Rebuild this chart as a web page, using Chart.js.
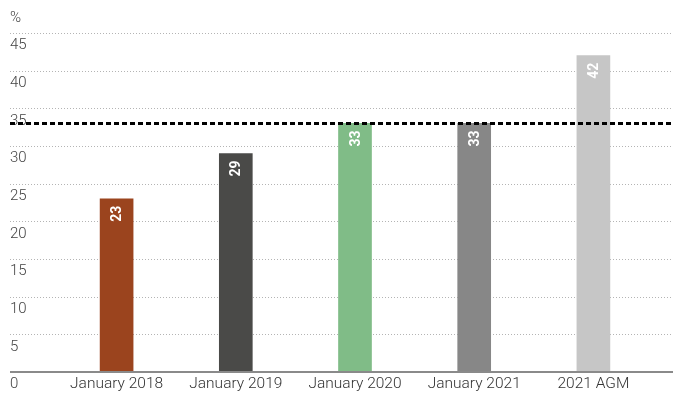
<!DOCTYPE html>
<html>
<head>
<meta charset="utf-8">
<script src="https://cdn.jsdelivr.net/npm/chart.js@4"></script>
<style>
  html, body { margin: 0; padding: 0; background: #fff; }
  #wrap { width: 673px; height: 401px; }
</style>
</head>
<body>
<div id="wrap"><canvas id="chart"></canvas></div>
<script>
const categories = ['January 2018', 'January 2019', 'January 2020', 'January 2021', '2021 AGM'];
const shares = [23, 29, 33, 33, 42];
const barColors = ['#9b441e', '#4a4a48', '#80bc87', '#878787', '#c6c6c6'];
const yTicks = [0, 5, 10, 15, 20, 25, 30, 35, 40, 45];
const targetLine = 33;
const unitLabel = '%';

const FONT = 'Roboto, "Liberation Sans", sans-serif';
const LEFT = 10, RIGHT = 673;

const decorations = {
  id: 'decorations',
  beforeDatasetsDraw(chart) {
    const ctx = chart.ctx, y = chart.scales.y;
    ctx.save();
    // dotted grid
    ctx.strokeStyle = '#b4b4b4';
    ctx.lineWidth = 1;
    ctx.setLineDash([1, 2]);
    yTicks.forEach(v => {
      if (v === 0) return;
      const py = Math.round(y.getPixelForValue(v)) + 0.5;
      ctx.beginPath();
      ctx.moveTo(LEFT, py);
      ctx.lineTo(RIGHT, py);
      ctx.stroke();
    });
    ctx.setLineDash([]);
    // tick labels sit under their lines
    ctx.fillStyle = '#444';
    ctx.font = '300 15px ' + FONT;
    ctx.textAlign = 'left';
    ctx.textBaseline = 'top';
    yTicks.forEach(v => {
      ctx.fillText(String(v), LEFT, y.getPixelForValue(v) + 5);
    });
    ctx.fillText(unitLabel, LEFT, 11);
    ctx.restore();
  },
  afterDatasetsDraw(chart) {
    const ctx = chart.ctx, y = chart.scales.y, x = chart.scales.x;
    const meta = chart.getDatasetMeta(0);
    ctx.save();
    // baseline
    const base = y.getPixelForValue(0);
    ctx.strokeStyle = '#8a8a8a';
    ctx.lineWidth = 2;
    ctx.beginPath();
    ctx.moveTo(LEFT, base);
    ctx.lineTo(RIGHT, base);
    ctx.stroke();
    // category labels
    ctx.fillStyle = '#333';
    ctx.font = '300 15.5px ' + FONT;
    ctx.textAlign = 'center';
    ctx.textBaseline = 'top';
    categories.forEach((c, i) => {
      ctx.fillText(c, x.getPixelForValue(i), base + 4);
    });
    // value labels inside the bars
    ctx.fillStyle = '#fff';
    ctx.font = 'bold 14px ' + FONT;
    ctx.textAlign = 'right';
    ctx.textBaseline = 'middle';
    meta.data.forEach((bar, i) => {
      ctx.save();
      ctx.translate(bar.x, bar.y + 7);
      ctx.rotate(-Math.PI / 2);
      ctx.fillText(String(shares[i]), 0, 1);
      ctx.restore();
    });
    // dashed reference line
    const ty = y.getPixelForValue(targetLine);
    ctx.strokeStyle = '#000';
    ctx.lineWidth = 3;
    ctx.setLineDash([5, 3]);
    ctx.beginPath();
    ctx.moveTo(LEFT, ty);
    ctx.lineTo(RIGHT, ty);
    ctx.stroke();
    ctx.restore();
  }
};

new Chart(document.getElementById('chart'), {
  type: 'bar',
  data: {
    labels: categories,
    datasets: [{
      data: shares,
      backgroundColor: barColors,
      barThickness: 33,
      borderWidth: 0
    }]
  },
  options: {
    responsive: true,
    maintainAspectRatio: false,
    animation: false,
    devicePixelRatio: 1,
    layout: { padding: { left: 57, right: 20, top: 33, bottom: 29 } },
    plugins: { legend: { display: false }, tooltip: { enabled: false } },
    scales: {
      x: { display: false },
      y: { display: false, min: 0, max: 45 }
    }
  },
  plugins: [decorations]
});
</script>
</body>
</html>
